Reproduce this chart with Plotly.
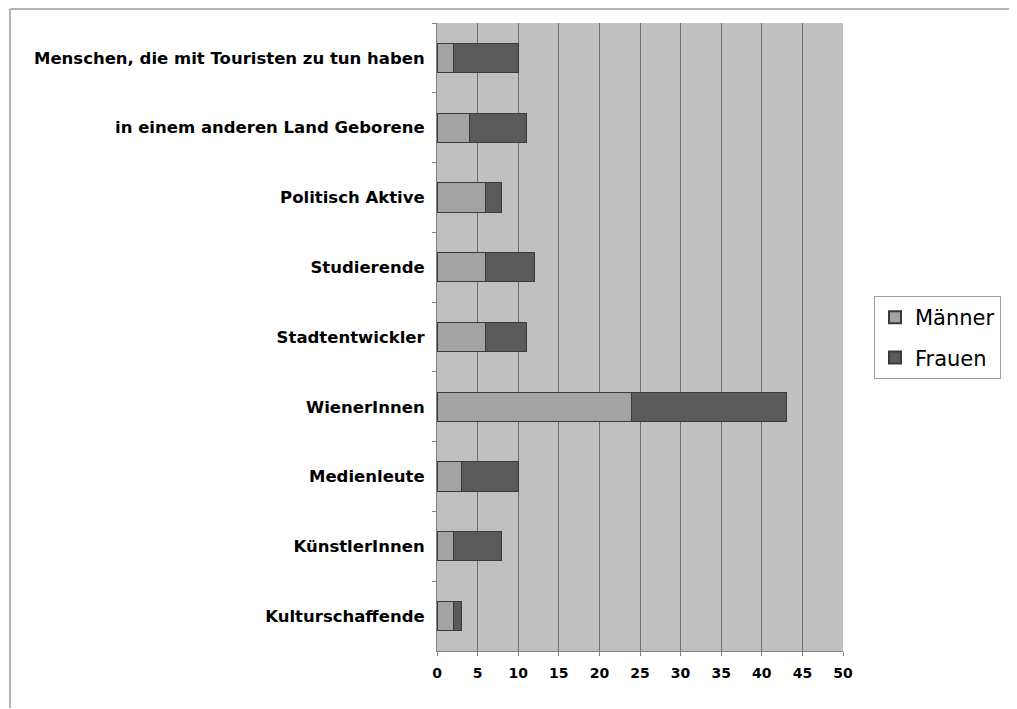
import plotly.graph_objects as go

categories = [
    "Menschen, die mit Touristen zu tun haben",
    "in einem anderen Land Geborene",
    "Politisch Aktive",
    "Studierende",
    "Stadtentwickler",
    "WienerInnen",
    "Medienleute",
    "KünstlerInnen",
    "Kulturschaffende",
]
maenner = [2, 4, 6, 6, 6, 24, 3, 2, 2]
frauen = [8, 7, 2, 6, 5, 19, 7, 6, 1]
x_ticks = list(range(0, 55, 5))

# page body has an 8px margin; work in figure coordinates (screen - 8)
OFF = 8
W, H = 1017 - OFF - 1, 709 - OFF - 1
L, R, T, B = 437 - OFF, 843 - OFF, 23 - OFF, 651 - OFF
pw, ph = R - L, B - T

def px(x):
    return (x - OFF - L) / pw

def py(y):
    return (B - (y - OFF)) / ph

FONT = "DejaVu Sans, Verdana, sans-serif"

fig = go.Figure()
fig.add_trace(go.Bar(
    y=categories, x=maenner, name="Männer", orientation="h", legendgroup="m",
    marker=dict(color="#a3a3a3", line=dict(color="#3a3a3a", width=1)),
))
fig.add_trace(go.Bar(
    y=categories, x=frauen, name="Frauen", orientation="h", legendgroup="f",
    marker=dict(color="#5a5a5a", line=dict(color="#3a3a3a", width=1)),
))

frame = dict(color="#b5b5b5", width=2)
fig.update_layout(
    width=W, height=H,
    barmode="stack", bargap=0.58,
    paper_bgcolor="white", plot_bgcolor="#c0c0c0",
    margin=dict(l=L, r=W - R, t=T, b=H - B, autoexpand=False),
    font=dict(family=FONT, color="black"),
    xaxis=dict(
        range=[0, 50], tickvals=x_ticks, ticktext=[str(v) for v in x_ticks],
        showgrid=True, gridcolor="#6e6e6e", gridwidth=1,
        showline=True, linecolor="#808080", linewidth=1,
        ticks="outside", ticklen=4, tickcolor="#808080",
        tickfont=dict(size=14, family=FONT, weight="bold"),
        ticklabelstandoff=5, zeroline=False, fixedrange=True,
    ),
    yaxis=dict(
        categoryorder="array", categoryarray=categories,
        autorange="reversed", tickson="boundaries",
        showgrid=False, showline=True, linecolor="#808080", linewidth=1,
        ticks="outside", ticklen=4, tickcolor="#808080",
        tickfont=dict(size=16.5, family=FONT, weight="bold"),
        ticklabelstandoff=8, fixedrange=True,
    ),
    legend=dict(
        x=px(874), y=py(296), xanchor="left", yanchor="top",
        bgcolor="white", bordercolor="#a0a0a0", borderwidth=1,
        font=dict(size=21, family=FONT),
        itemsizing="constant", tracegroupgap=10, traceorder="grouped",
    ),
    shapes=[
        dict(type="line", xref="paper", yref="paper",
             x0=px(10), x1=px(10), y0=py(720), y1=py(9), line=frame),
        dict(type="line", xref="paper", yref="paper",
             x0=px(1010), x1=px(1010), y0=py(720), y1=py(9), line=frame),
        dict(type="line", xref="paper", yref="paper",
             x0=px(10), x1=px(1010), y0=py(9), y1=py(9), line=frame),
    ],
)

fig.write_html("out.html")
